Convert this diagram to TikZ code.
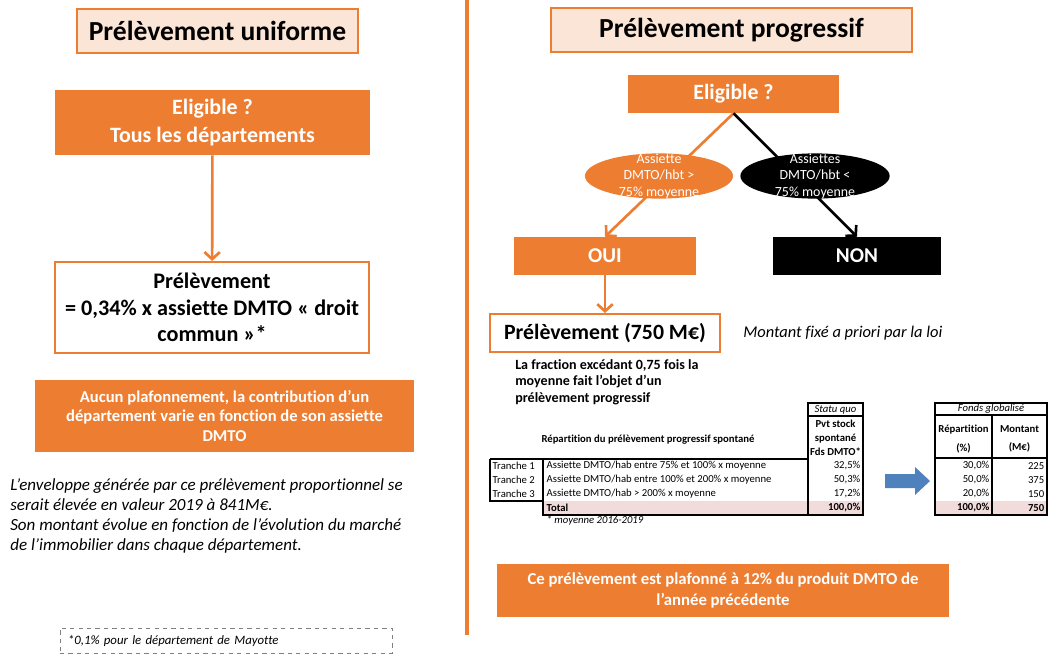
\documentclass[tikz,border=0pt]{standalone}
\usepackage{fontspec}
\setmainfont{Carlito}[Ligatures=NoCommon]
\usetikzlibrary{shapes.geometric,arrows.meta}
\definecolor{orangeppt}{HTML}{ED7D31}
\definecolor{peach}{HTML}{FBE5D6}
\definecolor{rosetot}{HTML}{F2DCDB}
\definecolor{bleuf}{HTML}{4F81BD}
\newcommand{\fsz}[2]{\fontsize{#1}{#2}\selectfont}

\begin{document}
\begin{tikzpicture}[x=0.025cm,y=-0.025cm,
  titre/.style={draw=orangeppt,fill=peach,line width=1pt,minimum height=1.1cm,font=\fsz{19.6}{22}\bfseries},
  plein/.style={fill=orangeppt,text=white,align=center},
  cadre/.style={draw=orangeppt,fill=white,line width=1.4pt,align=center},
  fleche/.style={-{Straight Barb[length=5pt,width=11pt]},line width=1.9pt},
  bulle/.style={ellipse,minimum width=3.7cm,minimum height=1.13cm,inner sep=0pt},
  bulletxt/.style={text=white,align=center,inner sep=0pt,font=\fsz{9.9}{11.7}},
  cell/.style={inner sep=1pt,font=\fsz{7.6}{10}},
  trait/.style={line width=0.8pt}]
\useasboundingbox (0,0) rectangle (1050,656);

% colonne de gauche
\node[titre,minimum width=7.03cm] (titreU) at (217.5,31) {Prélèvement uniforme};
\node[plein,minimum width=7.88cm,minimum height=1.63cm,font=\fsz{15.6}{19.5}\bfseries] (eligU) at (212.5,122.5) {Eligible ?\\Tous les départements};
\node[cadre,minimum width=7.85cm,minimum height=2.28cm,font=\fsz{15.8}{18.8}\bfseries] (prelU) at (212,307.5) {Prélèvement\\= 0,34\% x assiette DMTO « droit\\commun »*};
\draw[fleche,orangeppt] (eligU) -- (prelU);
\node[plein,minimum width=9.48cm,minimum height=1.8cm,font=\fsz{11.8}{14.2}\bfseries] (plafU) at (224.5,416) {Aucun plafonnement, la contribution d’un\\département varie en fonction de son assiette\\DMTO};
\node[anchor=north west,align=left,inner sep=0pt,font=\fsz{12.1}{14.3}\itshape] (enveloppe) at (10,478) {L’enveloppe générée par ce prélèvement proportionnel se\\serait élevée en valeur 2019 à 841M€.\\Son montant évolue en fonction de l’évolution du marché\\de l’immobilier dans chaque département.};
\node[draw=gray,dashed,minimum width=8.3cm,minimum height=0.63cm,text width=7.9cm,align=left,font=\fsz{9.1}{10}\itshape] (mayotte) at (226,640.5) {*0,1\% pour le département de Mayotte};

\draw[orangeppt,line width=2.8pt] (467,0) -- (467,635);

% colonne de droite
\node[titre,minimum width=9.03cm] (titreP) at (731.5,30) {Prélèvement progressif};
\node[plein,minimum width=5.28cm,minimum height=0.95cm,font=\fsz{15.5}{18}\bfseries] (eligP) at (733.5,94) {Eligible ?};
\node[plein,minimum width=4.55cm,minimum height=0.95cm,font=\fsz{15}{18}\bfseries] (oui) at (605,256) {OUI};
\node[plein,fill=black,minimum width=4.18cm,minimum height=0.95cm,font=\fsz{15}{18}\bfseries] (non) at (857,256) {NON};
\draw[fleche,orangeppt] (eligP.south) -- (oui.north);
\draw[fleche,black] (eligP.south) -- (non.north);
\node[bulle,fill=orangeppt] (assG) at (659,176) {};
\node[bulletxt] (assGtxt) at (assG) {Assiette\\DMTO/hbt >\\75\% moyenne};
\node[bulle,fill=black,minimum width=3.73cm] (assD) at (815,176) {};
\node[bulletxt] (assDtxt) at (assD) {Assiettes\\DMTO/hbt <\\75\% moyenne};
\node[cadre,minimum width=5.75cm,minimum height=0.95cm,font=\fsz{15.5}{19}\bfseries] (prelP) at (605,333) {Prélèvement (750 M€)};
\draw[fleche,orangeppt] (oui) -- (prelP);
\node[anchor=west,inner sep=0pt,font=\fsz{11.7}{13}\itshape] (montant) at (743,333) {Montant fixé a priori par la loi};
\node[anchor=north west,align=left,inner sep=0pt,font=\fsz{10}{11.7}\bfseries] (fraction) at (515,359) {La fraction excédant 0,75 fois la\\moyenne fait l’objet d’un\\prélèvement progressif};

% tableau statu quo
\fill[rosetot] (543,501) rectangle (863,515);
\draw[trait] (808,403) rectangle (863,515);
\draw[trait] (808,416) -- (863,416);
\draw[trait] (490,459) -- (808,459);
\draw[trait] (490,459) -- (490,501) -- (543,501);
\draw[trait] (543,459) -- (543,515) -- (808,515);
\node[cell,font=\fsz{7.6}{10}\itshape] (statu) at (835.5,409.5) {Statu quo};
\node[cell,align=center,font=\fsz{7.6}{10}\bfseries] (pvt) at (835.5,438) {Pvt stock\\spontané\\Fds DMTO*};
\node[cell,font=\fsz{7.6}{10}\bfseries] (repart) at (648,440) {Répartition du prélèvement progressif spontané};
\foreach \i/\desc/\val/\rep/\mont in {
  1/{Assiette DMTO/hab entre 75\% et 100\% x moyenne}/{32,5\%}/{30,0\%}/225,
  2/{Assiette DMTO/hab entre 100\% et 200\% x moyenne}/{50,3\%}/{50,0\%}/375,
  3/{Assiette DMTO/hab > 200\% x moyenne}/{17,2\%}/{20,0\%}/150}{
  \node[cell,anchor=west] (tr\i) at (491,{452+14*\i}) {Tranche \i};
  \node[cell,anchor=west] (desc\i) at (545,{452+14*\i}) {\desc};
  \node[cell,anchor=east] (val\i) at (862,{452+14*\i}) {\val};
  \node[cell,anchor=east] (rep\i) at (991,{452+14*\i}) {\rep};
  \node[cell,anchor=east] (mont\i) at (1046,{452+14*\i}) {\mont};
}
\node[cell,anchor=west,font=\fsz{7.6}{10}\bfseries] (total) at (545,508) {Total};
\node[cell,anchor=east,font=\fsz{7.6}{10}\bfseries] (valT) at (862,508) {100,0\%};
\node[cell,anchor=west,font=\fsz{7.6}{10}\itshape] (moy) at (545,521) {* moyenne 2016-2019};

\fill[bleuf] (885,474) -- (915,474) -- (915,467) -- (930,481) -- (915,495) -- (915,488) -- (885,488) -- cycle;

% tableau fonds globalise
\fill[rosetot] (935,501) rectangle (1047,515);
\draw[trait] (935,403) rectangle (1047,515);
\draw[trait] (935,415) -- (1047,415);
\draw[trait] (935,458) -- (1047,458);
\draw[trait] (992,415) -- (992,515);
\node[cell,font=\fsz{7.6}{10}\itshape] (fonds) at (991,409) {Fonds globalisé};
\node[cell,align=center,font=\fsz{7.6}{13}\bfseries] (repH) at (963.5,439) {Répartition\\(\%)};
\node[cell,align=center,font=\fsz{7.6}{13}\bfseries] (montH) at (1019.5,439) {Montant\\(M€)};
\node[cell,anchor=east,font=\fsz{7.6}{10}\bfseries] (repT) at (991,508) {100,0\%};
\node[cell,anchor=east,font=\fsz{7.6}{10}\bfseries] (montT) at (1046,508) {750};

\node[plein,minimum width=11.3cm,minimum height=1.33cm,font=\fsz{11.9}{15}\bfseries] (plafP) at (723,590.5) {Ce prélèvement est plafonné à 12\% du produit DMTO de\\l’année précédente};
\end{tikzpicture}
\end{document}
